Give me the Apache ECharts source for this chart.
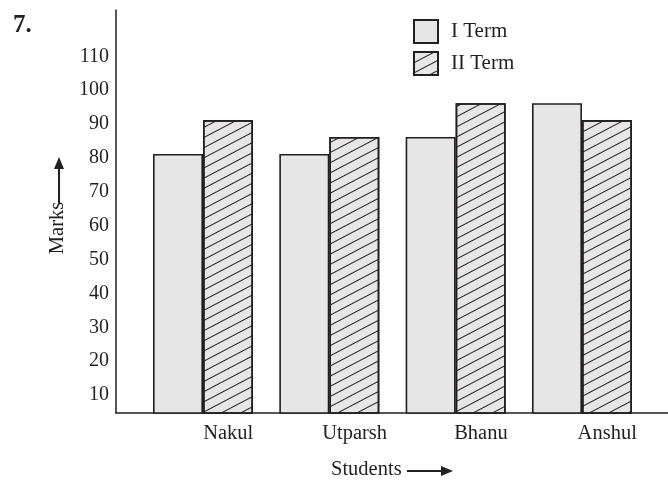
<!DOCTYPE html>
<html>
<head>
<meta charset="utf-8">
<script src="https://cdn.jsdelivr.net/npm/echarts@6/dist/echarts.min.js"></script>
<style>
  html, body { margin: 0; padding: 0; background: #ffffff; }
  #chart { width: 668px; height: 482px; }
</style>
</head>
<body>
<div id="chart"></div>
<script>
// Marks of four students in two terms
const students = ['Nakul', 'Utparsh', 'Bhanu', 'Anshul'];
const termOne = [80, 80, 85, 95];
const termTwo = [90, 85, 95, 90];
const markTicks = [10, 20, 30, 40, 50, 60, 70, 80, 90, 100, 110];
const seriesNames = ['I Term', 'II Term'];

const INK = '#231f20';
const FILL = '#e6e6e6';
const FONT = "'Liberation Serif', 'Times New Roman', serif";
// student names sit under the second bar of each pair
const nameShift = 0.2;

const chart = echarts.init(document.getElementById('chart'), null, { renderer: 'canvas' });

const barStyle = {
  color: FILL,
  borderColor: INK,
  borderWidth: 1.6
};

chart.setOption({
  backgroundColor: '#ffffff',
  animation: false,
  title: {
    text: '7.',
    left: 13,
    top: 13,
    padding: 0,
    textStyle: { fontFamily: FONT, fontSize: 25, fontWeight: 'bold', color: INK }
  },
  legend: {
    data: seriesNames,
    orient: 'vertical',
    left: 413,
    top: 19,
    padding: 0,
    itemWidth: 24,
    itemHeight: 23,
    itemGap: 7,
    icon: 'rect',
    textStyle: { fontFamily: FONT, fontSize: 21, color: INK, padding: [0, 0, 0, 8] }
  },
  grid: { left: 116, right: 0, top: 10, bottom: 69, outerBoundsMode: 'none' },
  xAxis: {
    type: 'value',
    min: 0.3113,
    max: 4.681,
    splitLine: { show: false },
    axisTick: { show: false },
    axisLine: { show: true, lineStyle: { color: INK, width: 1.5 } },
    axisLabel: {
      customValues: students.map((s, i) => i + 1 + nameShift),
      formatter: (v) => students[Math.round(v - nameShift) - 1] || '',
      margin: 10,
      fontFamily: FONT,
      fontSize: 20.5,
      color: INK
    }
  },
  yAxis: {
    type: 'value',
    min: 3.5,
    max: 122.5,
    splitLine: { show: false },
    axisTick: { show: false },
    axisLine: { show: true, lineStyle: { color: INK, width: 1.5 } },
    axisLabel: {
      customValues: markTicks,
      margin: 7,
      verticalAlign: 'top',
      lineHeight: 8,
      fontFamily: FONT,
      fontSize: 20,
      color: INK
    }
  },
  series: [
    {
      name: seriesNames[0],
      type: 'bar',
      barWidth: 50,
      barGap: '0%',
      itemStyle: barStyle,
      data: termOne.map((v, i) => [i + 1, v])
    },
    {
      name: seriesNames[1],
      type: 'bar',
      barWidth: 50,
      barGap: '0%',
      itemStyle: Object.assign({}, barStyle, {
        decal: {
          symbol: 'rect',
          symbolSize: 1,
          dashArrayX: [1, 0],
          dashArrayY: [1, 7.2],
          rotation: -Math.PI / 6.5,
          color: INK
        }
      }),
      data: termTwo.map((v, i) => [i + 1, v])
    }
  ],
  graphic: [
    // vertical axis title with an upward arrow
    {
      type: 'text',
      x: 58,
      y: 228,
      rotation: Math.PI / 2,
      style: { text: 'Marks', fontFamily: FONT, fontSize: 20.5, fill: INK, align: 'center', verticalAlign: 'middle' }
    },
    {
      type: 'line',
      shape: { x1: 59, y1: 203, x2: 59, y2: 166 },
      style: { stroke: INK, lineWidth: 2 }
    },
    {
      type: 'polygon',
      shape: { points: [[59, 157], [54, 169], [64, 169]] },
      style: { fill: INK }
    },
    // horizontal axis title with a rightward arrow
    {
      type: 'text',
      x: 331,
      y: 470,
      style: { text: 'Students', fontFamily: FONT, fontSize: 20.5, fill: INK, align: 'left', verticalAlign: 'middle' }
    },
    {
      type: 'line',
      shape: { x1: 407, y1: 471, x2: 442, y2: 471 },
      style: { stroke: INK, lineWidth: 2 }
    },
    {
      type: 'polygon',
      shape: { points: [[453, 471], [441, 466], [441, 476]] },
      style: { fill: INK }
    }
  ]
});
</script>
</body>
</html>
